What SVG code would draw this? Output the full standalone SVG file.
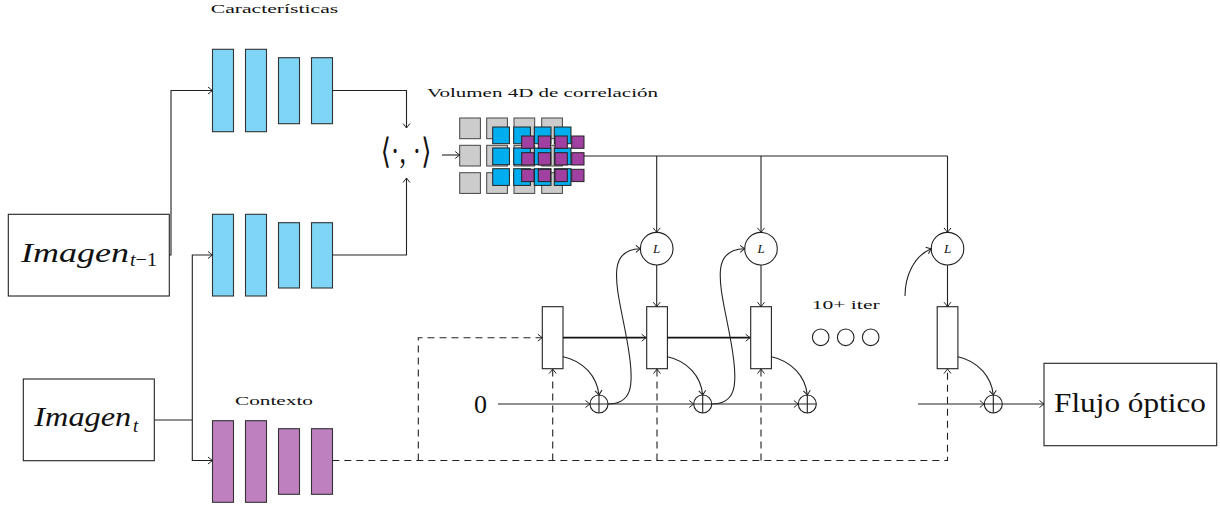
<svg xmlns="http://www.w3.org/2000/svg" width="1220" height="507" viewBox="0 0 1220 507">
<style>
.box{fill:#fff;stroke:#222;stroke-width:1.1}
.feat{fill:#7FD5F5;stroke:#333;stroke-width:1.1}
.ctx{fill:#BF80BF;stroke:#333;stroke-width:1.1}
.gray{fill:#CCCCCC;stroke:#444;stroke-width:1}
.blue{fill:#00AEEF;stroke:#222;stroke-width:1}
.purp{fill:#A040A0;stroke:#222;stroke-width:1}
.ln{fill:none;stroke:#222;stroke-width:1.1}
.thick{fill:none;stroke:#111;stroke-width:1.8}
.dash{fill:none;stroke:#222;stroke-width:1.1;stroke-dasharray:7,5}
.circ{fill:#fff;stroke:#222;stroke-width:1.1}
.lbl{font-family:"Liberation Serif","DejaVu Serif",serif;font-size:12px;fill:#111}
.big{font-family:"Liberation Serif","DejaVu Serif",serif;fill:#111}
.it{font-style:italic}
</style>
<defs>
<marker id="ar" markerWidth="10" markerHeight="10" viewBox="-6 -5 7 10" refX="0" refY="0" orient="auto" markerUnits="userSpaceOnUse">
<path d="M-4.5,-3.5 Q-1.5,-1 0,0 Q-1.5,1 -4.5,3.5" fill="none" stroke="#222" stroke-width="1"/>
</marker>
</defs>

<g id="label-caracteristicas"><text class="lbl" x="210.7" y="13.3" textLength="127.6" lengthAdjust="spacingAndGlyphs">Características</text></g>
<g id="label-volumen"><text class="lbl" x="427" y="96.5" textLength="231" lengthAdjust="spacingAndGlyphs">Volumen 4D de correlación</text></g>
<g id="label-contexto"><text class="lbl" x="235" y="405" textLength="78" lengthAdjust="spacingAndGlyphs">Contexto</text></g>
<g id="label-iter"><text class="lbl" x="811.7" y="309" textLength="68" lengthAdjust="spacingAndGlyphs">10+ iter</text></g>

<g id="imagen-t1">
<rect class="box" x="8.3" y="214.3" width="161" height="81.7"/>
<text class="big it" x="21" y="261.7" font-size="28" textLength="108" lengthAdjust="spacingAndGlyphs">Imagen</text>
<text class="big" x="130" y="265.7" font-size="19" textLength="27" lengthAdjust="spacingAndGlyphs"><tspan class="it">t</tspan>−1</text>
</g>
<g id="imagen-t">
<rect class="box" x="23.3" y="379" width="131" height="81.7"/>
<text class="big it" x="34.3" y="426" font-size="28" textLength="97" lengthAdjust="spacingAndGlyphs">Imagen</text>
<text class="big it" x="133" y="432" font-size="19">t</text>
</g>

<g id="features-top">
<rect class="feat" x="212.5" y="49.3" width="21" height="82.4"/>
<rect class="feat" x="245.5" y="49.3" width="21" height="82.4"/>
<rect class="feat" x="278.5" y="57.7" width="21" height="66"/>
<rect class="feat" x="311.5" y="57.7" width="21" height="66"/>
</g>
<g id="features-bottom">
<rect class="feat" x="212.5" y="214.3" width="21" height="81.7"/>
<rect class="feat" x="245.5" y="214.3" width="21" height="81.7"/>
<rect class="feat" x="278.5" y="222.7" width="21" height="65.3"/>
<rect class="feat" x="311.5" y="222.7" width="21" height="65.3"/>
</g>
<g id="context">
<rect class="ctx" x="212.5" y="420.7" width="21" height="81.6"/>
<rect class="ctx" x="245.5" y="420.7" width="21" height="81.6"/>
<rect class="ctx" x="278.5" y="428.7" width="21" height="65.6"/>
<rect class="ctx" x="311.5" y="428.7" width="21" height="65.6"/>
</g>

<g id="dot-product">
<text class="big" x="406" y="161" font-size="26" text-anchor="middle" font-family="DejaVu Serif, serif" transform="translate(0,152) scale(1,1.35) translate(0,-152.5)">⟨·, ·⟩</text>
</g>

<g id="corr-volume">
<g class="gray">
<rect x="459.7" y="118" width="20.7" height="20.7"/><rect x="486.7" y="118" width="20.7" height="20.7"/><rect x="514" y="118" width="20.7" height="20.7"/><rect x="541.7" y="118" width="20.7" height="20.7"/>
<rect x="459.7" y="145.3" width="20.7" height="20.7"/><rect x="486.7" y="145.3" width="20.7" height="20.7"/><rect x="514" y="145.3" width="20.7" height="20.7"/><rect x="541.7" y="145.3" width="20.7" height="20.7"/>
<rect x="459.7" y="172.7" width="20.7" height="20.7"/><rect x="486.7" y="172.7" width="20.7" height="20.7"/><rect x="514" y="172.7" width="20.7" height="20.7"/><rect x="541.7" y="172.7" width="20.7" height="20.7"/>
</g>
<g class="blue">
<rect x="492.7" y="127" width="16.7" height="16.7"/><rect x="513.7" y="127" width="16.7" height="16.7"/><rect x="534.3" y="127" width="16.7" height="16.7"/><rect x="554.3" y="127" width="16.7" height="16.7"/>
<rect x="492.7" y="148" width="16.7" height="16.7"/><rect x="513.7" y="148" width="16.7" height="16.7"/><rect x="534.3" y="148" width="16.7" height="16.7"/><rect x="554.3" y="148" width="16.7" height="16.7"/>
<rect x="492.7" y="168.7" width="16.7" height="16.7"/><rect x="513.7" y="168.7" width="16.7" height="16.7"/><rect x="534.3" y="168.7" width="16.7" height="16.7"/><rect x="554.3" y="168.7" width="16.7" height="16.7"/>
</g>
<g class="purp">
<rect x="521.7" y="136" width="12.3" height="12.3"/><rect x="538.3" y="136" width="12.3" height="12.3"/><rect x="555" y="136" width="12.3" height="12.3"/><rect x="571.7" y="136" width="12.3" height="12.3"/>
<rect x="521.7" y="152.7" width="12.3" height="12.3"/><rect x="538.3" y="152.7" width="12.3" height="12.3"/><rect x="555" y="152.7" width="12.3" height="12.3"/><rect x="571.7" y="152.7" width="12.3" height="12.3"/>
<rect x="521.7" y="169.3" width="12.3" height="12.3"/><rect x="538.3" y="169.3" width="12.3" height="12.3"/><rect x="555" y="169.3" width="12.3" height="12.3"/><rect x="571.7" y="169.3" width="12.3" height="12.3"/>
</g>
</g>

<g id="lookup-1"><circle class="circ" cx="656.7" cy="248.7" r="16.3"/><text class="big it" x="656.7" y="253.3" font-size="13" text-anchor="middle">L</text></g>
<g id="lookup-2"><circle class="circ" cx="761" cy="248.7" r="16.3"/><text class="big it" x="761" y="253.3" font-size="13" text-anchor="middle">L</text></g>
<g id="lookup-3"><circle class="circ" cx="947.5" cy="248.7" r="16.3"/><text class="big it" x="947.5" y="253.3" font-size="13" text-anchor="middle">L</text></g>

<g id="gru-0"><rect class="box" x="542.3" y="306.7" width="20.7" height="62"/></g>
<g id="gru-1"><rect class="box" x="646.7" y="306.7" width="20.7" height="62"/></g>
<g id="gru-2"><rect class="box" x="750.7" y="306.7" width="20.7" height="62"/></g>
<g id="gru-n"><rect class="box" x="937.2" y="306.7" width="20.7" height="62"/></g>

<g id="sum-1"><circle class="circ" cx="599" cy="404" r="9"/><path class="ln" d="M590,404H608M599,395V413"/></g>
<g id="sum-2"><circle class="circ" cx="702.7" cy="404" r="9"/><path class="ln" d="M693.7,404H711.7M702.7,395V413"/></g>
<g id="sum-3"><circle class="circ" cx="807.3" cy="404" r="9"/><path class="ln" d="M798.3,404H816.3M807.3,395V413"/></g>
<g id="sum-n"><circle class="circ" cx="993.3" cy="404" r="9"/><path class="ln" d="M984.3,404H1002.3M993.3,395V413"/></g>

<g id="dots">
<circle class="circ" cx="820.7" cy="337.3" r="8.3"/>
<circle class="circ" cx="845.7" cy="337.3" r="8.3"/>
<circle class="circ" cx="870.7" cy="337.3" r="8.3"/>
</g>

<g id="zero"><text class="big" x="480.5" y="413" font-size="26" text-anchor="middle">0</text></g>

<g id="flujo">
<rect class="box" x="1044" y="363.3" width="172.7" height="82.4"/>
<text class="big" x="1054" y="412.3" font-size="27" textLength="152" lengthAdjust="spacingAndGlyphs">Flujo óptico</text>
</g>

<g id="connectors">
<path class="ln" d="M169.3,255H171V90.5H212.5" marker-end="url(#ar)"/>
<path class="ln" d="M154.3,420H192.3V255H212.5" marker-end="url(#ar)"/>
<path class="ln" d="M192.3,420V460.5H212.5" marker-end="url(#ar)"/>
<path class="ln" d="M332.3,90.5H406.5V128" marker-end="url(#ar)"/>
<path class="ln" d="M332.3,255H406.5V178" marker-end="url(#ar)"/>
<path class="ln" d="M442,155H459.7" marker-end="url(#ar)"/>
<path class="ln" d="M584,156H947.5"/>
<path class="ln" d="M656.7,156V232.4" marker-end="url(#ar)"/>
<path class="ln" d="M761,156V232.4" marker-end="url(#ar)"/>
<path class="ln" d="M947.5,156V232.4" marker-end="url(#ar)"/>
<path class="ln" d="M656.7,265V306.7" marker-end="url(#ar)"/>
<path class="ln" d="M761,265V306.7" marker-end="url(#ar)"/>
<path class="ln" d="M947.5,265V306.7" marker-end="url(#ar)"/>
<path class="thick" d="M563,337.7H646.2" marker-end="url(#ar)"/>
<path class="thick" d="M667.4,337.7H750.2" marker-end="url(#ar)"/>
<path class="ln" d="M563,356.7C584,361 597,377 599,395" marker-end="url(#ar)"/>
<path class="ln" d="M667.4,356.7C688,361 701,377 702.7,395" marker-end="url(#ar)"/>
<path class="ln" d="M771.4,356.7C792,361 805.5,377 807.3,395" marker-end="url(#ar)"/>
<path class="ln" d="M957.9,356.7C978,361 991.5,377 993.3,395" marker-end="url(#ar)"/>
<path class="ln" d="M498,404H590" marker-end="url(#ar)"/>
<path class="ln" d="M608,404H693.7" marker-end="url(#ar)"/>
<path class="ln" d="M711.7,404H798.3" marker-end="url(#ar)"/>
<path class="ln" d="M918,404H984.3" marker-end="url(#ar)"/>
<path class="ln" d="M1002.3,404H1044" marker-end="url(#ar)"/>
<path class="ln" d="M608,404C632,404 633,385 630,360C626,325 614,290 617,268C619,254 628,249 640.4,248.7" marker-end="url(#ar)"/>
<path class="ln" d="M711.7,404C735.7,404 736.7,385 733.7,360C729.7,325 717.7,290 720.7,268C722.7,254 731.7,249 744.7,248.7" marker-end="url(#ar)"/>
<path class="ln" d="M905,296C905,276 914,256 931.2,248.7" marker-end="url(#ar)"/>
<path class="dash" d="M332.3,460.5H947.5V369" marker-end="url(#ar)"/>
<path class="dash" d="M418.3,460.5V337.7H542.3" marker-end="url(#ar)"/>
<path class="dash" d="M552.7,460.5V369" marker-end="url(#ar)"/>
<path class="dash" d="M657,460.5V369" marker-end="url(#ar)"/>
<path class="dash" d="M761,460.5V369" marker-end="url(#ar)"/>
</g>
</svg>
